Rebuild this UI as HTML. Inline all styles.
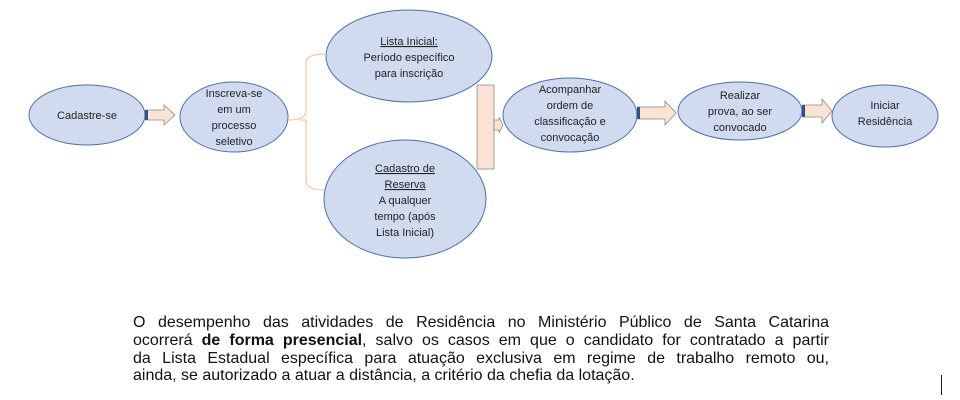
<!DOCTYPE html>
<html><head><meta charset="utf-8"><style>
body{margin:0;background:#fff;width:960px;height:400px;overflow:hidden;position:relative;font-family:"Liberation Sans",Arial,sans-serif}
svg{position:absolute;left:0;top:0}
svg text{font-family:"Liberation Sans",Arial,sans-serif;font-size:11px;fill:#222;text-anchor:middle}
.p{position:absolute;left:133px;top:314px;width:696px;font-size:16px;line-height:17.8px;color:#111}
.p div{text-align:justify;text-align-last:justify;white-space:nowrap}
.p div.l{text-align-last:left}
.bar{position:absolute;left:941px;top:375px;width:1px;height:20px;background:#222}
</style></head><body>
<svg width="960" height="400">
<g fill="#d0dbf0" stroke="#4f6fa8" stroke-width="1">
<ellipse cx="87" cy="115" rx="58" ry="30"/>
<ellipse cx="234" cy="117" rx="54" ry="35"/>
<ellipse cx="409" cy="56" rx="83" ry="46"/>
<ellipse cx="405" cy="199" rx="81" ry="59"/>
<ellipse cx="570" cy="115" rx="67" ry="37"/>
<ellipse cx="740" cy="111" rx="62" ry="29"/>
<ellipse cx="885" cy="116" rx="53" ry="31"/>
</g>
<path d="M289 120 Q305 120 306 112 L306 62 Q307 54 325 54 M306 120 L306 182 Q307 190 325 190 M300 120 L306 120" fill="none" stroke="#f2b98f" stroke-width="1"/>
<g fill="#fbe3d3" stroke="#8a8a8a" stroke-width="0.8">
<path d="M146 110 L164 110 L164 105 L175 115 L164 125 L164 120 L146 120 Z"/>
<path d="M638 107 L665 107 L665 101 L676 113 L665 125 L665 119 L638 119 Z"/>
<path d="M803 105 L822 105 L822 99 L832 111 L822 123 L822 117 L803 117 Z"/>
<rect x="477" y="85" width="17" height="84"/>
<path d="M494 120 L499 120 L499 117 L503 125 L499 133 L499 130 L494 130 Z"/>
</g>
<g fill="#2f4f8f"><rect x="145" y="110" width="3" height="10"/><rect x="637" y="107" width="3" height="12"/><rect x="802" y="105" width="3" height="12"/></g>
<text x="87" y="119">Cadastre-se</text>
<text x="234" y="97">Inscreva-se</text><text x="234" y="113">em um</text><text x="234" y="129">processo</text><text x="234" y="145">seletivo</text>
<text x="409" y="45" text-decoration="underline">Lista Inicial:</text><text x="409" y="61">Período específico</text><text x="409" y="77">para inscrição</text>
<text x="405" y="172" text-decoration="underline">Cadastro de</text><text x="405" y="188" text-decoration="underline">Reserva</text><text x="405" y="204">A qualquer</text><text x="405" y="220">tempo (após</text><text x="405" y="236">Lista Inicial)</text>
<text x="570" y="93">Acompanhar</text><text x="570" y="109">ordem de</text><text x="570" y="125">classificação e</text><text x="570" y="141">convocação</text>
<text x="740" y="99">Realizar</text><text x="740" y="115">prova, ao ser</text><text x="740" y="131">convocado</text>
<text x="885" y="109">Iniciar</text><text x="885" y="125">Residência</text>
</svg>
<div class="p">
<div>O desempenho das atividades de Residência no Ministério Público de Santa Catarina</div>
<div>ocorrerá <b>de forma presencial</b>, salvo os casos em que o candidato for contratado a partir</div>
<div>da Lista Estadual específica para atuação exclusiva em regime de trabalho remoto ou,</div>
<div class="l">ainda, se autorizado a atuar a distância, a critério da chefia da lotação.</div>
</div>
<div class="bar"></div>
</body></html>
